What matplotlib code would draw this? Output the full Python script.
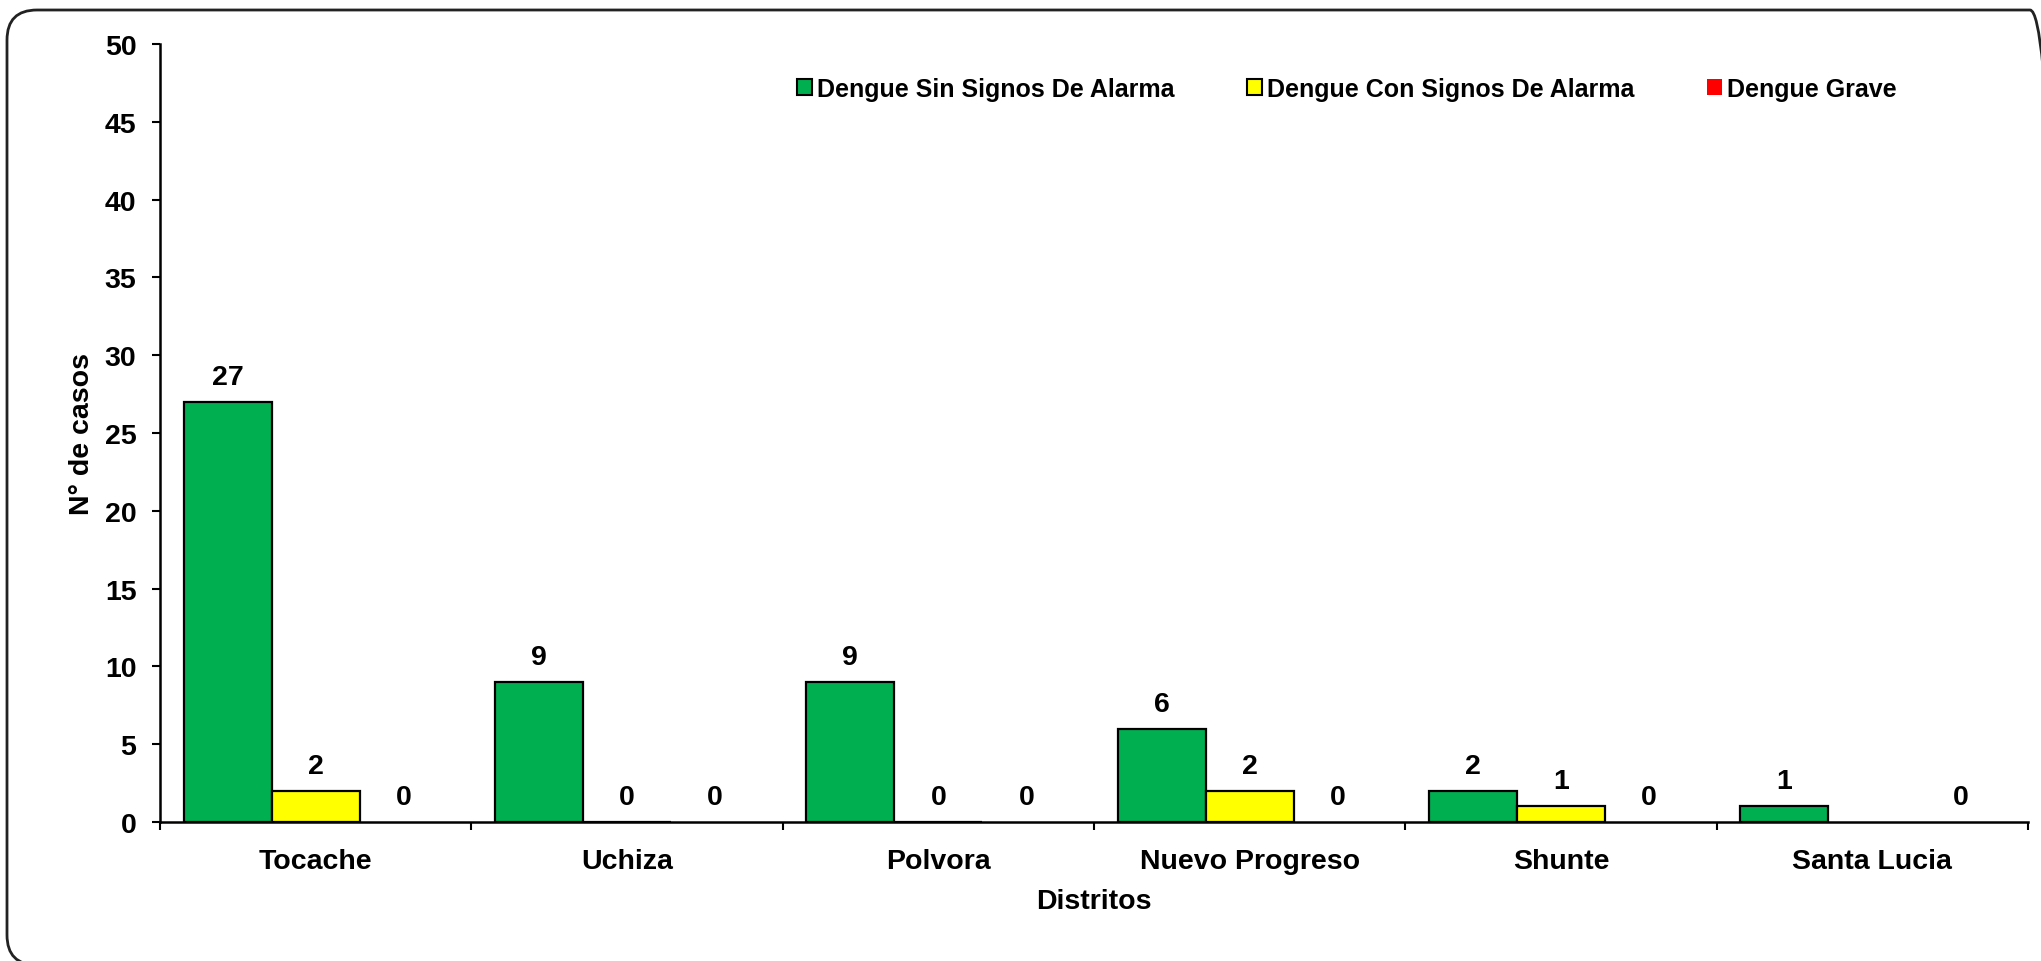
import numpy as np
import matplotlib
matplotlib.use("Agg")
import matplotlib.pyplot as plt
from matplotlib.patches import Patch, FancyBboxPatch
from matplotlib.transforms import IdentityTransform

# ---- data ----
districts = ["Tocache", "Uchiza", "Polvora", "Nuevo Progreso", "Shunte", "Santa Lucia"]
sin_signos = [27, 9, 9, 6, 2, 1]
con_signos = [2, 0, 0, 2, 1, np.nan]
grave = [0, 0, 0, 0, 0, 0]
series_names = ["Dengue Sin Signos De Alarma", "Dengue Con Signos De Alarma", "Dengue Grave"]
y_ticks = [0, 5, 10, 15, 20, 25, 30, 35, 40, 45, 50]

plt.rcParams['font.family'] = ['Liberation Sans', 'DejaVu Sans']
plt.rcParams['font.weight'] = 'bold'

FS = 20.5
W, H = 2041, 962
fig = plt.figure(figsize=(W / 100, H / 100), dpi=100)
fig.patch.set_facecolor('white')

# rounded outer border in pixel (display) coordinates
border = FancyBboxPatch((7, H - 966), 2060 - 7, 966 - 11,
                        boxstyle="round,pad=0,rounding_size=30",
                        transform=IdentityTransform(),
                        facecolor='none', edgecolor='#222222', linewidth=2.0,
                        clip_on=False)
fig.add_artist(border)

ax = fig.add_axes([160 / W, 1 - 823 / H, (2028 - 160) / W, (823 - 45) / H])
ax.set_facecolor('white')

x = np.arange(len(districts))
w = 0.283
colors = ['#00B050', '#FFFF00', '#FF0000']
series = [sin_signos, con_signos, grave]
for i, (vals, col) in enumerate(zip(series, colors)):
    pos = x + (i - 1) * w
    vals_arr = np.array(vals, dtype=float)
    mask = ~np.isnan(vals_arr)
    ax.bar(pos[mask], vals_arr[mask], width=w, color=col, edgecolor='black',
           linewidth=1.6 if i < 2 else 0, zorder=3)
    for px, v in zip(pos[mask], vals_arr[mask]):
        ax.annotate(f"{int(v)}", (px, v), xytext=(0, 13), textcoords='offset points',
                    ha='center', va='baseline', fontsize=FS, fontweight='bold')

ax.set_xlim(-0.5, len(districts) - 0.5)
ax.set_ylim(0, 50)
ax.set_yticks(y_ticks)
ax.set_yticklabels([str(t) for t in y_ticks], fontsize=FS, fontweight='bold')
ax.tick_params(axis='y', direction='out', length=6, width=1.5, pad=11)

# major ticks at boundaries, labels at centers via minor ticks
ax.set_xticks(np.arange(-0.5, len(districts), 1.0))
ax.set_xticklabels([])
ax.tick_params(axis='x', which='major', direction='out', length=6, width=1.5)
ax.set_xticks(x, minor=True)
ax.set_xticklabels(districts, minor=True, fontsize=FS, fontweight='bold')
ax.tick_params(axis='x', which='minor', length=0, pad=19)

for s in ['top', 'right']:
    ax.spines[s].set_visible(False)
for s in ['left', 'bottom']:
    ax.spines[s].set_linewidth(1.8)

ax.set_xlabel("Distritos", fontsize=FS, fontweight='bold', labelpad=10)
ax.set_ylabel("N° de casos", fontsize=FS, fontweight='bold', labelpad=7)

handles = [Patch(facecolor=colors[0], edgecolor='black', linewidth=1.5),
           Patch(facecolor=colors[1], edgecolor='black', linewidth=1.5),
           Patch(facecolor=colors[2], edgecolor='none')]
fig.legend(handles, series_names, loc='center left',
           bbox_to_anchor=(797 / W, 1 - 90 / H), ncol=3, frameon=False,
           prop={'size': 18.0, 'weight': 'bold'}, borderpad=0, borderaxespad=0,
           handlelength=0.6, handleheight=0.6, handletextpad=0.2,
           columnspacing=2.9)

fig.savefig("out.png", dpi=100, facecolor='white')
